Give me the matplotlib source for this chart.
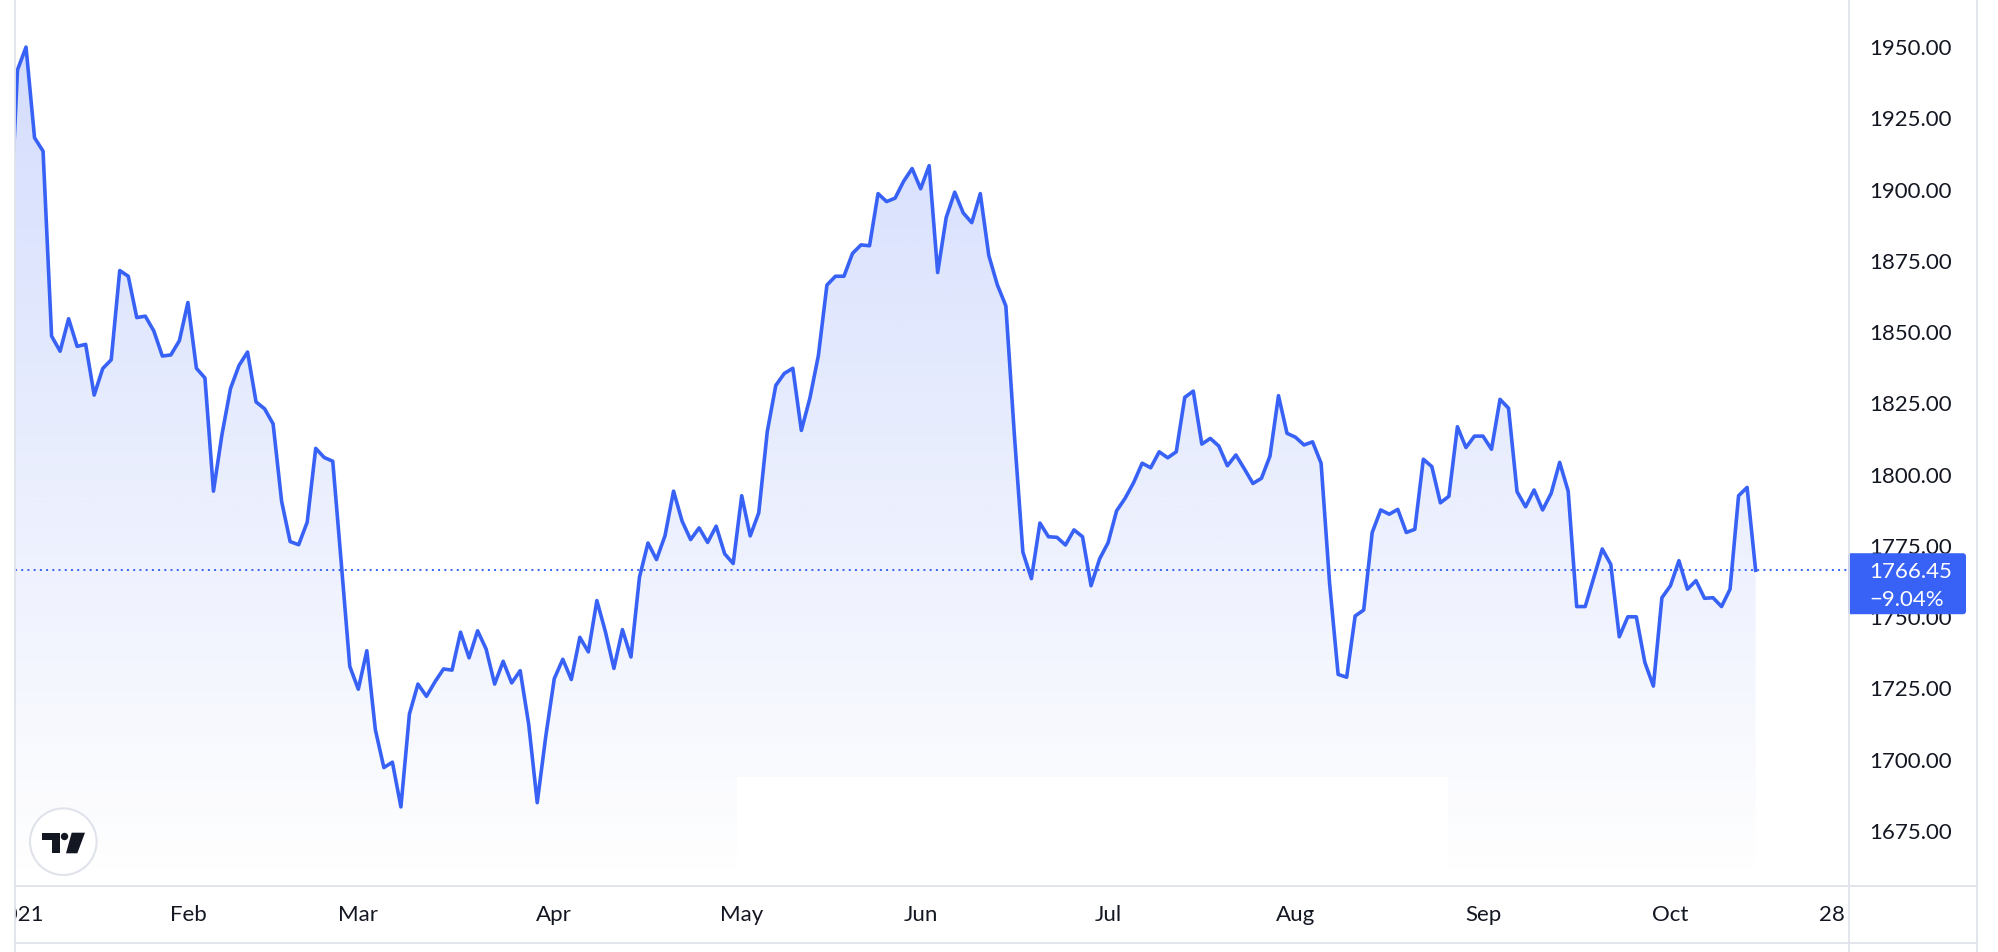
import numpy as np
import pandas as pd
import matplotlib
matplotlib.use('Agg')
import matplotlib.pyplot as plt
from matplotlib.patches import Rectangle, Circle, Polygon, FancyBboxPatch
from matplotlib.ticker import FormatStrFormatter
from matplotlib.colors import to_rgb

plt.rcParams['font.family'] = ['Lato', 'DejaVu Sans']

# daily closes, first value is the last bar of 2020 (only a sliver shows)
prices = [
    1878.0,
    1942.0, 1950.0, 1918.2, 1913.5, 1848.6, 1843.3, 1854.7, 1845.0, 1845.7, 1827.9,
    1837.2, 1840.3, 1871.6, 1869.6, 1855.1, 1855.6, 1850.4, 1841.6, 1842.0, 1847.0,
    1860.4, 1837.3, 1833.9, 1794.2, 1814.1, 1830.2, 1838.3, 1843.0, 1825.5, 1823.1,
    1817.8, 1790.6, 1776.5, 1775.4, 1783.3, 1809.2, 1806.0, 1804.7, 1769.0, 1732.7,
    1724.7, 1738.2, 1710.5, 1697.2, 1699.1, 1683.4, 1716.0, 1726.5, 1722.2, 1727.3,
    1731.8, 1731.4, 1744.7, 1735.7, 1745.2, 1738.8, 1726.5, 1734.5, 1726.9, 1731.2,
    1712.4, 1684.9, 1708.1, 1728.4, 1735.2, 1728.1, 1742.9, 1737.8, 1755.8, 1744.9,
    1732.0, 1745.6, 1736.0, 1764.0, 1776.0, 1770.2, 1778.6, 1794.2, 1783.7, 1777.2,
    1781.3, 1776.2, 1781.9, 1772.2, 1768.8, 1792.6, 1778.5, 1786.6, 1815.1, 1831.3,
    1835.5, 1837.3, 1815.5, 1826.8, 1841.8, 1866.5, 1869.6, 1869.6, 1877.6, 1880.6,
    1880.3, 1898.6, 1895.8, 1897.0, 1902.9, 1907.4, 1900.3, 1908.4, 1870.9, 1890.2,
    1899.1, 1891.8, 1888.4, 1898.6, 1876.9, 1866.6, 1859.2, 1814.0, 1772.8, 1763.5,
    1783.0, 1778.2, 1778.0, 1775.3, 1780.6, 1778.2, 1761.0, 1770.4, 1776.1, 1787.3,
    1791.7, 1797.2, 1804.0, 1802.4, 1808.0, 1805.9, 1808.0, 1827.1, 1829.3, 1810.7,
    1812.7, 1810.0, 1803.1, 1806.9, 1802.0, 1796.9, 1798.7, 1806.5, 1827.7, 1814.5,
    1813.1, 1810.4, 1811.5, 1804.0, 1761.8, 1729.9, 1728.9, 1750.4, 1752.5, 1779.7,
    1787.6, 1786.1, 1787.8, 1779.7, 1780.8, 1805.4, 1802.8, 1790.1, 1792.4, 1816.8,
    1809.5, 1813.5, 1813.5, 1808.9, 1826.4, 1823.3, 1794.0, 1788.7, 1794.6, 1787.6,
    1793.4, 1804.3, 1794.2, 1753.7, 1753.7, 1763.8, 1773.9, 1768.5, 1743.1, 1750.1,
    1750.1, 1734.1, 1725.8, 1756.8, 1761.0, 1769.8, 1759.8, 1762.8, 1756.6, 1756.8,
    1753.7, 1759.8, 1792.6, 1795.5, 1766.45,
]

time_labels = ['2021', 'Feb', 'Mar', 'Apr', 'May', 'Jun', 'Jul', 'Aug', 'Sep', 'Oct', '28']
time_label_dates = ['2021-01-04', '2021-02-01', '2021-03-01', '2021-04-01', '2021-05-03',
                    '2021-06-01', '2021-07-01', '2021-08-02', '2021-09-01', '2021-10-01',
                    '2021-10-28']
price_ticks = np.arange(1675, 1951, 25)

BLUE = '#3862f5'
DARK = '#131722'
GRID = '#e0e3eb'
W, H = 1998, 952

# bar calendar (weekdays, new year holiday skipped)
calendar = pd.bdate_range('2020-12-31', '2021-10-29').drop(pd.Timestamp('2021-01-01'))
x = np.arange(len(prices))
label_x = [calendar.get_loc(pd.Timestamp(d)) for d in time_label_dates]
last = prices[-1]
pct = (last / prices[1] - 1) * 100

fig = plt.figure(figsize=(W / 100, H / 100), dpi=100)
ax = fig.add_axes([15 / W, (H - 886) / H, (1849 - 15) / W, 886 / H])
xlim = (0.707, 215.96)
ylim = (1655.65, 1966.53)

# gradient area under the line
rgb = to_rgb(BLUE)
grad = np.zeros((256, 1, 4))
grad[..., 0], grad[..., 1], grad[..., 2] = rgb
grad[:, 0, 3] = np.linspace(0.0, 0.22, 256)
img = ax.imshow(grad, extent=[x[0], x[-1], ylim[0], max(prices)], origin='lower',
                aspect='auto', interpolation='bilinear', zorder=1)
poly = ax.fill_between(x, prices, ylim[0], facecolor='none', edgecolor='none')
img.set_clip_path(poly.get_paths()[0], transform=ax.transData)

ax.plot(x, prices, color=BLUE, lw=2.6, zorder=3)
ax.axhline(last, color=BLUE, lw=1.4, ls=(0, (1, 2.2)), zorder=2)

ax.set_xlim(*xlim)
ax.set_ylim(*ylim)
for s in ax.spines.values():
    s.set_visible(False)
ax.set_xticks([])
ax.yaxis.tick_right()
ax.set_yticks(price_ticks)
ax.yaxis.set_major_formatter(FormatStrFormatter('%.2f'))
ax.tick_params(axis='y', length=0, pad=14.4, labelsize=16, labelcolor=DARK)

# time scale
tax = fig.add_axes([15 / W, (H - 943) / H, (1849 - 15) / W, 57 / H])
tax.set_xlim(*xlim)
tax.set_ylim(0, 1)
tax.axis('off')
for lab, xi in zip(time_labels, label_x):
    tax.text(xi, 0.49, lab, ha='center', va='center', fontsize=16, color=DARK, clip_on=True)

# overlay in pixel units for frame, tag and logo
ov = fig.add_axes([0, 0, 1, 1], zorder=5)
ov.set_xlim(0, W)
ov.set_ylim(H, 0)
ov.axis('off')
ov.patch.set_alpha(0)

ov.add_patch(Rectangle((737, 777), 711, 108, fc='white', ec='none'))

for xv in (15, 1849, 1977):
    ov.plot([xv, xv], [0, H], color=GRID, lw=1.3)
for yv in (886, 943):
    ov.plot([15, 1977], [yv, yv], color=GRID, lw=1.3)

y_line = H - ax.transData.transform((x[-1], last))[1]
ov.add_patch(FancyBboxPatch((1848, y_line - 17), 118, 61,
                            boxstyle='round,pad=0,rounding_size=3', fc=BLUE, ec='none'))
ov.text(1869, y_line + 1.5, f'{last:.2f}', color='white', fontsize=16, ha='left', va='center')
ov.text(1869, y_line + 30, f'\u2212{abs(pct):.2f}%', color='white', fontsize=16,
        ha='left', va='center')

# logo
ov.add_patch(Circle((63.3, 841.7), 33.3, fc='white', ec=GRID, lw=1.5))
ov.add_patch(Polygon([(41.7, 832.7), (60, 832.7), (60, 853.3), (52.3, 853.3),
                      (52.3, 840), (41.7, 840)], closed=True, fc=DARK, ec='none'))
ov.add_patch(Circle((64.5, 836.5), 3.7, fc=DARK, ec='none'))
ov.add_patch(Polygon([(71.7, 832.7), (85, 832.7), (77.3, 853.3), (66, 853.3)],
                     closed=True, fc=DARK, ec='none'))

fig.savefig('out.png', dpi=100)
